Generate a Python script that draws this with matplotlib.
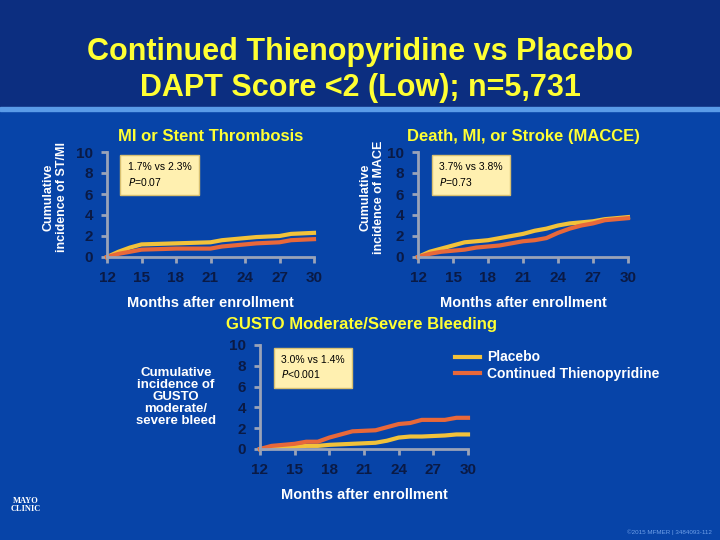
import matplotlib
matplotlib.use("Agg")
import matplotlib.pyplot as plt
from matplotlib.patches import Rectangle

plt.rcParams['font.family'] = ['Liberation Sans', 'DejaVu Sans']

YELLOW = '#F2C23A'
ORANGE = '#E8683A'
TITLE_YEL = '#FFFF33'
TICK_COL = '#0a1a45'
AXIS_COL = '#9aa3b8'

# MI or stent thrombosis
st_x = [12, 13, 14, 15, 18, 21, 22, 24, 25, 27, 28, 30]
st_placebo = [0.0, 0.5, 0.9, 1.2, 1.3, 1.4, 1.6, 1.8, 1.9, 2.0, 2.2, 2.3]
st_cont = [0.0, 0.3, 0.5, 0.7, 0.8, 0.8, 1.0, 1.2, 1.3, 1.4, 1.6, 1.7]
# MACCE
mc_x = [12, 13, 14, 15, 16, 17, 18, 19, 20, 21, 22, 23, 24, 25, 26, 27, 28, 29, 30]
mc_placebo = [0.0, 0.5, 0.8, 1.1, 1.4, 1.5, 1.6, 1.8, 2.0, 2.2, 2.5, 2.7, 3.0, 3.2, 3.3, 3.4, 3.6, 3.7, 3.8]
mc_cont = [0.0, 0.3, 0.5, 0.6, 0.7, 0.9, 1.0, 1.1, 1.3, 1.5, 1.6, 1.8, 2.3, 2.7, 3.0, 3.2, 3.5, 3.6, 3.7]
# GUSTO bleeding
bl_x = [12, 13, 15, 16, 17, 18, 20, 22, 23, 24, 25, 26, 28, 29, 30]
bl_placebo = [0.0, 0.1, 0.2, 0.3, 0.3, 0.4, 0.5, 0.6, 0.8, 1.1, 1.2, 1.2, 1.3, 1.4, 1.4]
bl_cont = [0.0, 0.3, 0.5, 0.7, 0.7, 1.1, 1.7, 1.8, 2.1, 2.4, 2.5, 2.8, 2.8, 3.0, 3.0]

xticks = [12, 15, 18, 21, 24, 27, 30]
yticks = [0, 2, 4, 6, 8, 10]

W, H = 720, 540
fig = plt.figure(figsize=(7.2, 5.4), dpi=100)
fig.patch.set_facecolor('#0744a8')

# title band and separator line
fig.add_artist(Rectangle((0, 1 - 107 / H), 1, 107 / H, transform=fig.transFigure,
                         color='#0c2e80', zorder=0))
fig.add_artist(Rectangle((0, 1 - 111 / H), 1, 4 / H, transform=fig.transFigure,
                         color='#5a9be8', zorder=0))

fig.text(0.5, 1 - 52 / H, 'Continued Thienopyridine vs Placebo', color=TITLE_YEL, fontsize=22,
         fontweight='bold', ha='center', va='center')
fig.text(0.5, 1 - 88 / H, 'DAPT Score <2 (Low); n=5,731', color=TITLE_YEL, fontsize=22,
         fontweight='bold', ha='center', va='center')


def panel(x0, x1, ytop, ybot, xs, placebo, cont, title, stat):
    ax = fig.add_axes([x0 / W, 1 - ybot / H, (x1 - x0) / W, (ybot - ytop) / H])
    ax.set_facecolor('none')
    ax.plot(xs, placebo, color=YELLOW, lw=3, clip_on=False)
    ax.plot(xs, cont, color=ORANGE, lw=3, clip_on=False)
    ax.set_xlim(12, 30)
    ax.set_ylim(0, 10)
    ax.set_xticks(xticks)
    ax.set_yticks(yticks)
    for s in ['top', 'right']:
        ax.spines[s].set_visible(False)
    for s in ['left', 'bottom']:
        ax.spines[s].set_color(AXIS_COL)
        ax.spines[s].set_linewidth(2)
    ax.tick_params(colors=AXIS_COL, labelcolor=TICK_COL, labelsize=11, length=4, width=2,
                   direction='out', pad=6)
    for lab in ax.get_xticklabels() + ax.get_yticklabels():
        lab.set_fontweight('bold')
    ax.set_xlabel('Months after enrollment', color='white', fontsize=10.5, fontweight='bold',
                  labelpad=8)
    if title:
        ax.set_title(title, color=TITLE_YEL, fontsize=12, fontweight='bold', pad=8)
    ax.text(0.1, 0.9, stat, transform=ax.transAxes, color='black', fontsize=7.5, va='top',
            linespacing=1.3,
            bbox=dict(boxstyle='square,pad=0.7', facecolor='#FFF0B0', edgecolor='#d8c070'))
    return ax


panel(107, 314, 152, 257, st_x, st_placebo, st_cont, 'MI or Stent Thrombosis',
      '1.7% vs 2.3%\n$P$=0.07       ')
panel(418, 628, 152, 257, mc_x, mc_placebo, mc_cont, 'Death, MI, or Stroke (MACCE)',
      '3.7% vs 3.8%\n$P$=0.73       ')
panel(260, 468, 345, 449, bl_x, bl_placebo, bl_cont, None,
      '3.0% vs 1.4%\n$P$<0.001      ')

fig.text(55 / W, 1 - 197 / H, 'Cumulative\nincidence of ST/MI', color='white', fontsize=9,
         fontweight='bold', rotation=90, ha='center', va='center')
fig.text(372 / W, 1 - 197 / H, 'Cumulative\nincidence of MACE', color='white', fontsize=9,
         fontweight='bold', rotation=90, ha='center', va='center')
fig.text(176 / W, 1 - 397 / H, 'Cumulative\nincidence of\nGUSTO\nmoderate/\nsevere bleed',
         color='white', fontsize=9.5, fontweight='bold', ha='center', va='center',
         linespacing=1.0)
fig.text(362 / W, 1 - 325 / H, 'GUSTO Moderate/Severe Bleeding', color=TITLE_YEL, fontsize=12,
         fontweight='bold', ha='center', va='center')

# legend
fig.add_artist(plt.Line2D([455 / W, 480 / W], [1 - 357 / H] * 2, color=YELLOW, lw=3))
fig.add_artist(plt.Line2D([455 / W, 480 / W], [1 - 373 / H] * 2, color=ORANGE, lw=3))
fig.text(487 / W, 1 - 357 / H, 'Placebo', color='white', fontsize=10, fontweight='bold',
         va='center')
fig.text(487 / W, 1 - 374 / H, 'Continued Thienopyridine', color='white', fontsize=10,
         fontweight='bold', va='center')

fig.text(26 / W, 1 - 505 / H, 'MAYO\nCLINIC', color='white', fontsize=6, fontweight='bold',
         ha='center', va='center', family='Liberation Serif', linespacing=0.9)
fig.text(712 / W, 1 - 532 / H, '©2015 MFMER | 3484093-112', color='#6fa0e8', fontsize=4.5,
         ha='right', va='center')

fig.savefig('out.png', dpi=100, facecolor=fig.get_facecolor())
